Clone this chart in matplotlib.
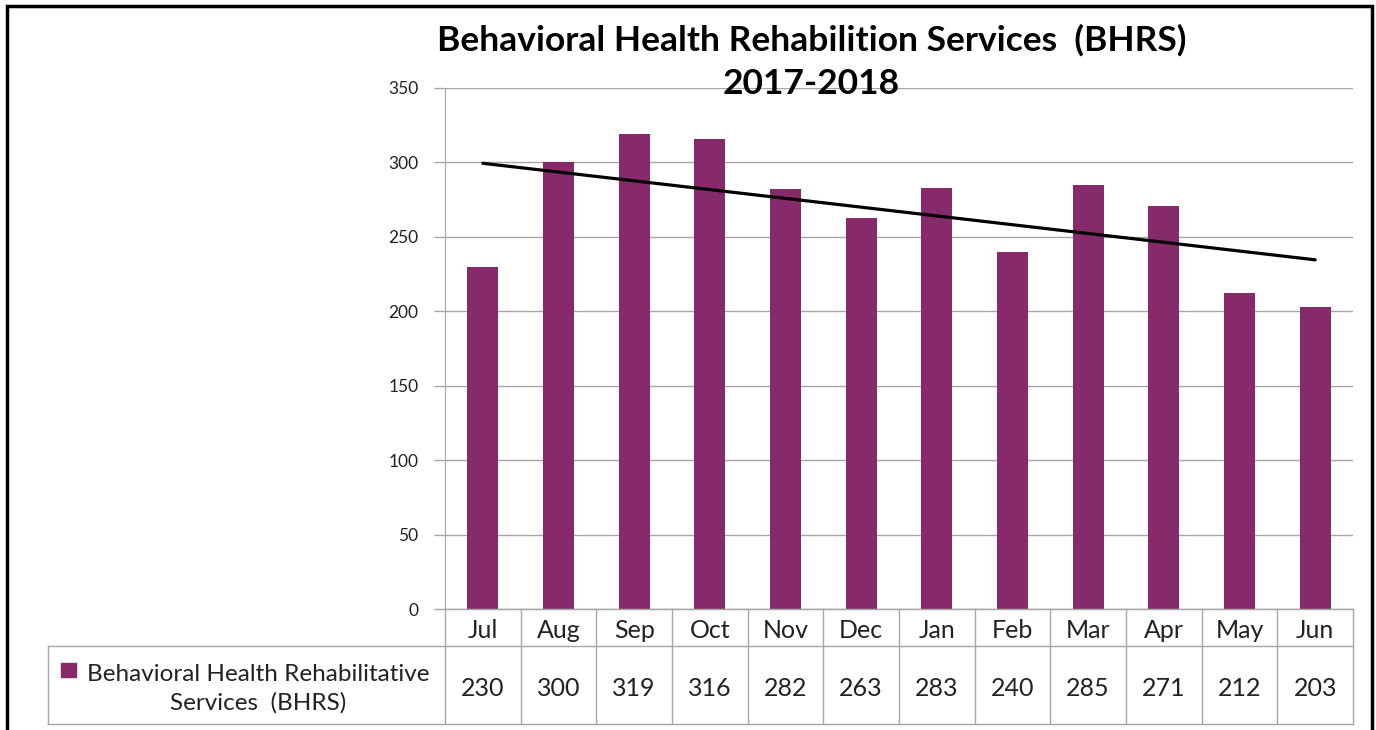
import numpy as np
import matplotlib
matplotlib.use('Agg')
import matplotlib.pyplot as plt
from matplotlib.patches import Rectangle
from matplotlib.transforms import blended_transform_factory

months = ['Jul', 'Aug', 'Sep', 'Oct', 'Nov', 'Dec', 'Jan', 'Feb', 'Mar', 'Apr', 'May', 'Jun']
bhrs = [230, 300, 319, 316, 282, 263, 283, 240, 285, 271, 212, 203]
series_name = 'Behavioral Health Rehabilitative\nServices  (BHRS)'
yticks = [0, 50, 100, 150, 200, 250, 300, 350]

bar_color = '#872A6B'
grid_color = '#A6A6A6'
text_color = '#222222'

plt.rcParams['font.family'] = ['Lato', 'DejaVu Sans']

W, H = 1376, 730
fig = plt.figure(figsize=(W / 100, H / 100), dpi=100)


def fx(p):
    return p / W


def fy(p):
    return 1 - p / H


ax = fig.add_axes([fx(445), fy(609), fx(1353) - fx(445), fy(88) - fy(609)])
x = np.arange(len(months))
ax.bar(x, bhrs, width=0.41, color=bar_color, zorder=2)

# linear trend line
k, b = np.polyfit(x, bhrs, 1)
ax.plot(x, k * x + b, color='black', lw=2.3, zorder=3, solid_capstyle='round')

ax.set_xlim(-0.5, len(months) - 0.5)
ax.set_ylim(0, 350)
ax.set_yticks(yticks)
ax.set_xticks([])
ax.yaxis.grid(True, color=grid_color, lw=1)
ax.set_axisbelow(True)
for s in ['top', 'right']:
    ax.spines[s].set_visible(False)
ax.spines['left'].set_color(grid_color)
ax.spines['bottom'].set_color(grid_color)
ax.tick_params(axis='y', length=8, width=1, color=grid_color, pad=11,
               labelsize=12.5, labelcolor=text_color)

# data table under the axis
tr = blended_transform_factory(ax.transData, fig.transFigure)
y_top, y_mid, y_bot = fy(609), fy(646), fy(724)
for i in range(len(months) + 1):
    ax.plot([i - 0.5, i - 0.5], [y_top, y_bot], color=grid_color, lw=1,
            transform=tr, clip_on=False)
ax.plot([-0.5, len(months) - 0.5], [y_top, y_top], color=grid_color, lw=1,
        transform=tr, clip_on=False)
fig.add_artist(plt.Line2D([fx(48), fx(1353)], [y_mid, y_mid], color=grid_color, lw=1))
fig.add_artist(plt.Line2D([fx(48), fx(1353)], [y_bot, y_bot], color=grid_color, lw=1))
fig.add_artist(plt.Line2D([fx(48), fx(48)], [y_mid, y_bot], color=grid_color, lw=1))

for i, (m, v) in enumerate(zip(months, bhrs)):
    ax.text(i, fy(631), m, transform=tr, ha='center', va='center',
            fontsize=18, color=text_color)
    ax.text(i, fy(689), str(v), transform=tr, ha='center', va='center',
            fontsize=18, color=text_color)

fig.add_artist(Rectangle((fx(61), fy(677)), fx(15), fy(663) - fy(677),
                         transform=fig.transFigure, color=bar_color))
fig.text(fx(258), fy(689), series_name, ha='center', va='center', fontsize=17.5,
         color=text_color, linespacing=1.38)

fig.text(fx(812), fy(40), 'Behavioral Health Rehabilition Services  (BHRS)',
         ha='center', va='center', fontsize=25.5, fontweight='bold')
fig.text(fx(811), fy(84), '2017-2018', ha='center', va='center',
         fontsize=25.5, fontweight='bold')

# outer frame
fig.add_artist(Rectangle((fx(7), -0.05), fx(1372) - fx(7), fy(6) + 0.05,
                         transform=fig.transFigure, fill=False, ec='black', lw=2.5))

fig.savefig('out.png', dpi=100)
